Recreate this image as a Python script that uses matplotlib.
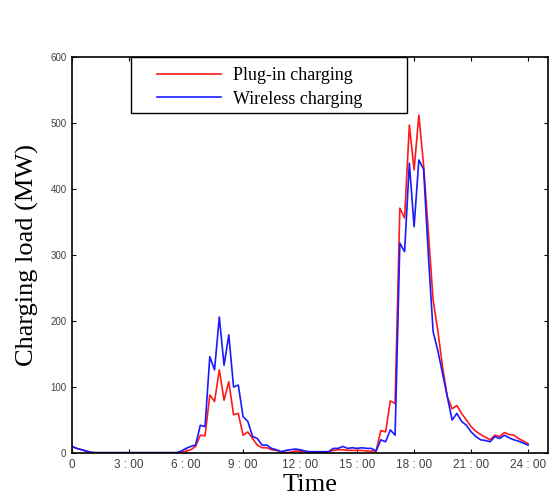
import numpy as np
import matplotlib
matplotlib.use('Agg')
import matplotlib.pyplot as plt
from matplotlib.patches import Rectangle

# 15-minute samples over one day (97 points, 0:00 .. 24:00)
plug_in = [10, 7, 5, 3, 1, 0.5, 0.5, 0.5, 0.5, 0.5,
           0.5, 0.5, 0.5, 0.5, 0.5, 0.5, 0.5, 0.5, 0.5, 0.5,
           0.5, 0.5, 0.5, 1, 3, 5, 10, 27, 26, 88,
           78, 126, 80, 108, 58, 60, 27, 32, 22, 12,
           8, 8, 5, 4, 2, 1, 1, 3, 3, 2,
           1, 1, 1, 1, 2, 4, 5, 5, 4, 4,
           4, 4, 3, 3, 3, 34, 32, 79, 75, 371,
           356, 497, 429, 512, 436, 335, 232, 185, 130, 85,
           67, 72, 60, 50, 40, 33, 28, 24, 20, 27,
           25, 31, 28, 27, 22, 18, 14]
wireless = [10, 7, 5, 3, 1, 0.5, 0.5, 0.5, 0.5, 0.5,
            0.5, 0.5, 0.5, 0.5, 0.5, 0.5, 0.5, 0.5, 0.5, 0.5,
            0.5, 0.5, 0.5, 3, 7, 10, 12, 42, 40, 146,
            126, 206, 133, 179, 100, 103, 55, 48, 25, 22,
            12, 12, 7, 5, 2, 4, 5, 6, 5, 3,
            2, 2, 2, 2, 2, 7, 7, 10, 7, 8,
            7, 8, 7, 7, 3, 20, 17, 35, 27, 318,
            305, 439, 343, 444, 430, 300, 184, 155, 120, 85,
            50, 60, 48, 42, 32, 25, 20, 19, 17, 25,
            22, 27, 23, 20, 18, 15, 12]
hours = np.arange(len(plug_in)) / 4.0

x_ticks = [0, 3, 6, 9, 12, 15, 18, 21, 24]
x_labels = ['0', '3 : 00', '6 : 00', '9 : 00', '12 : 00', '15 : 00',
            '18 : 00', '21 : 00', '24 : 00']
y_ticks = [0, 100, 200, 300, 400, 500, 600]

fig = plt.figure(figsize=(5.51, 4.97), dpi=100)
ax = fig.add_axes([0.1307, 0.0885, 0.864, 0.7968])

ax.plot(hours, plug_in, color='#ff1a1a', linewidth=1.2, label='Plug-in charging')
ax.plot(hours, wireless, color='#1a1aff', linewidth=1.2, label='Wireless charging')

ax.set_xlim(0, 25.05)
ax.set_ylim(0, 600)
ax.set_xticks(x_ticks)
ax.set_xticklabels(x_labels)
ax.set_yticks(y_ticks)
ax.tick_params(direction='in', length=3, width=0.8, top=True, right=True,
               labelcolor='#404040', pad=4)
ax.tick_params(axis='x', labelsize=8.5)
ax.tick_params(axis='y', labelsize=7)
for lab in ax.get_xticklabels() + ax.get_yticklabels():
    lab.set_family('Liberation Sans')
for s in ax.spines.values():
    s.set_linewidth(1.2)

serif = 'Liberation Serif'
ax.set_ylabel('Charging load (MW)', fontsize=19, family=serif, labelpad=8)
ax.set_xlabel('Time', fontsize=19, family=serif, labelpad=2.5)

# legend frame drawn separately so the entries can sit off-centre like the original
ax.add_patch(Rectangle((0.124, 0.859), 0.58, 0.141, transform=ax.transAxes,
                       facecolor='white', edgecolor='black', linewidth=1.0,
                       zorder=4, clip_on=False))
leg = ax.legend(loc='upper left', bbox_to_anchor=(0.179, 0.975),
                prop={'family': serif, 'size': 13}, frameon=False,
                handlelength=3.55, handletextpad=0.67, borderaxespad=0,
                borderpad=0, labelspacing=0.38)
leg.set_zorder(5)

fig.savefig('out.png', dpi=100)
